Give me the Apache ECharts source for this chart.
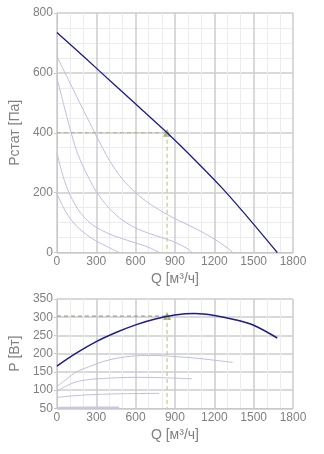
<!DOCTYPE html>
<html><head><meta charset="utf-8">
<script src="https://cdn.jsdelivr.net/npm/echarts@6/dist/echarts.min.js"></script>
<style>html,body{margin:0;padding:0;background:#fff}#c{width:324px;height:454px}</style>
</head><body><div id="c"></div>
<script>
// Pressure curves (Q [m3/h], Pstat [Pa])
const pMain = [[0,735],[210,652],[420,568],[630,484],[840,400],[1050,310],[1260,215],[1470,110],[1680,0]];
const pA = [[0,655],[100,566],[200,477],[300,390],[400,308],[500,245],[600,200],[700,165],[800,137],[900,113],[1000,92],[1100,70],[1200,45],[1300,15],[1340,0]];
const pB = [[0,583],[50,497],[100,413],[150,340],[200,287],[250,243],[300,203],[400,147],[500,108],[600,82],[700,64],[800,50],[900,34],[1000,12],[1030,0]];
const pC = [[0,332],[50,250],[100,192],[175,135],[250,100],[300,84],[400,62],[500,46],[600,32],[700,17],[780,0]];
const pD = [[0,197],[50,150],[100,114],[150,88],[200,68],[250,52],[300,38],[350,27],[400,16],[475,0]];
// Power curves (Q, P [W])
const wMain = [[0,166],[150,202],[300,233],[450,258],[600,279],[750,295],[900,306],[1050,310],[1200,305],[1350,294],[1500,278],[1680,243]];
const wA = [[0,110],[75,130],[150,150],[250,165],[350,178],[450,187],[600,194],[750,195],[900,192],[1050,188],[1200,182],[1340,176]];
const wB = [[0,96],[75,112],[150,123],[250,129],[350,132],[600,135],[800,134],[1030,131]];
const wC = [[0,80],[150,85],[300,88],[500,90],[780,91]];
const wD = [[0,52],[200,53],[475,53]];
// Operating point
const opQ = 840, opP = 400, opW = 303;
const xTicks = [0, 1800, 300];
const yTopTicks = [0, 800, 200];
const yBotTicks = [50, 350, 50];

const gray = '#808080';
const font = 'Liberation Sans, Arial, sans-serif';
const thin = '#bdbde6';
const navy = '#1c1c8a';
const olive = '#c9c98a';

function xAxis(gi){
  return {type:'value', gridIndex:gi, min:xTicks[0], max:xTicks[1], interval:xTicks[2],
    name:'Q [м³/ч]', nameLocation:'middle', nameGap:20,
    nameTextStyle:{color:gray, fontSize:14, fontFamily:font},
    axisLine:{show:true, lineStyle:{color:'#c8c8c8', width:1}},
    axisTick:{show:false},
    axisLabel:{color:gray, fontSize:12, fontFamily:font, margin:3, formatter:v=>String(v)},
    splitLine:{show:true, lineStyle:{color:'#cccccc', width:1.5}},
    minorTick:{show:false, splitNumber:3},
    minorSplitLine:{show:true, lineStyle:{color:'#ececec', width:1}}};
}
function yAxis(gi, t, name, minor){
  return {type:'value', gridIndex:gi, min:t[0], max:t[1], interval:t[2],
    name:name, nameLocation:'middle', nameGap:29, nameRotate:90,
    nameTextStyle:{color:gray, fontSize:14, fontFamily:font},
    axisLine:{show:true, lineStyle:{color:'#c8c8c8', width:1}},
    axisTick:{show:true, length:3, lineStyle:{color:'#c8c8c8'}},
    axisLabel:{color:gray, fontSize:12, fontFamily:font, margin:4, formatter:v=>String(v)},
    splitLine:{show:true, lineStyle:{color:'#cccccc', width:1.5}},
    minorTick:{show:false, splitNumber:minor},
    minorSplitLine:{show:minor>1, lineStyle:{color:'#ececec', width:1}}};
}
function line(data, xi, color, w){
  return {type:'line', xAxisIndex:xi, yAxisIndex:xi, data:data, smooth:0.3, symbol:'none',
    lineStyle:{color:color, width:w}, silent:true};
}
function dash(data, xi, color){
  return {type:'line', xAxisIndex:xi, yAxisIndex:xi, data:data, symbol:'none',
    lineStyle:{color:color, width:1.2, type:[4,3]}, silent:true};
}
const chart = echarts.init(document.getElementById('c'), null, {renderer:'canvas'});
chart.setOption({
  animation:false,
  grid:[{left:53, top:13, width:240, height:239.5},{left:53, top:299, width:240, height:109.3}],
  xAxis:[xAxis(0), xAxis(1)],
  yAxis:[yAxis(0, yTopTicks, 'Рстат [Па]', 4), yAxis(1, yBotTicks, 'P [Вт]', 1)],
  series:[
    line(pA,0,thin,1), line(pB,0,thin,1), line(pC,0,thin,1), line(pD,0,thin,1),
    dash([[0,opP],[opQ,opP]],0,'#b0b088'),
    dash([[opQ,opP],[opQ,0]],0,olive),
    line(pMain,0,navy,1.3),
    {type:'scatter', xAxisIndex:0, yAxisIndex:0, data:[[opQ,opP]], symbol:'triangle', symbolSize:8, itemStyle:{color:'#8c9c5a'}, silent:true},
    line(wA,1,thin,1), line(wB,1,thin,1), line(wC,1,thin,1), line(wD,1,'#c8c8e4',1.5),
    dash([[0,opW],[opQ,opW]],1,'#a0a090'),
    dash([[opQ,opW],[opQ,50]],1,olive),
    line(wMain,1,navy,1.5),
    {type:'scatter', xAxisIndex:1, yAxisIndex:1, data:[[opQ,opW]], symbol:'triangle', symbolSize:8, itemStyle:{color:'#8c9c5a'}, silent:true}
  ]
});
</script></body></html>
